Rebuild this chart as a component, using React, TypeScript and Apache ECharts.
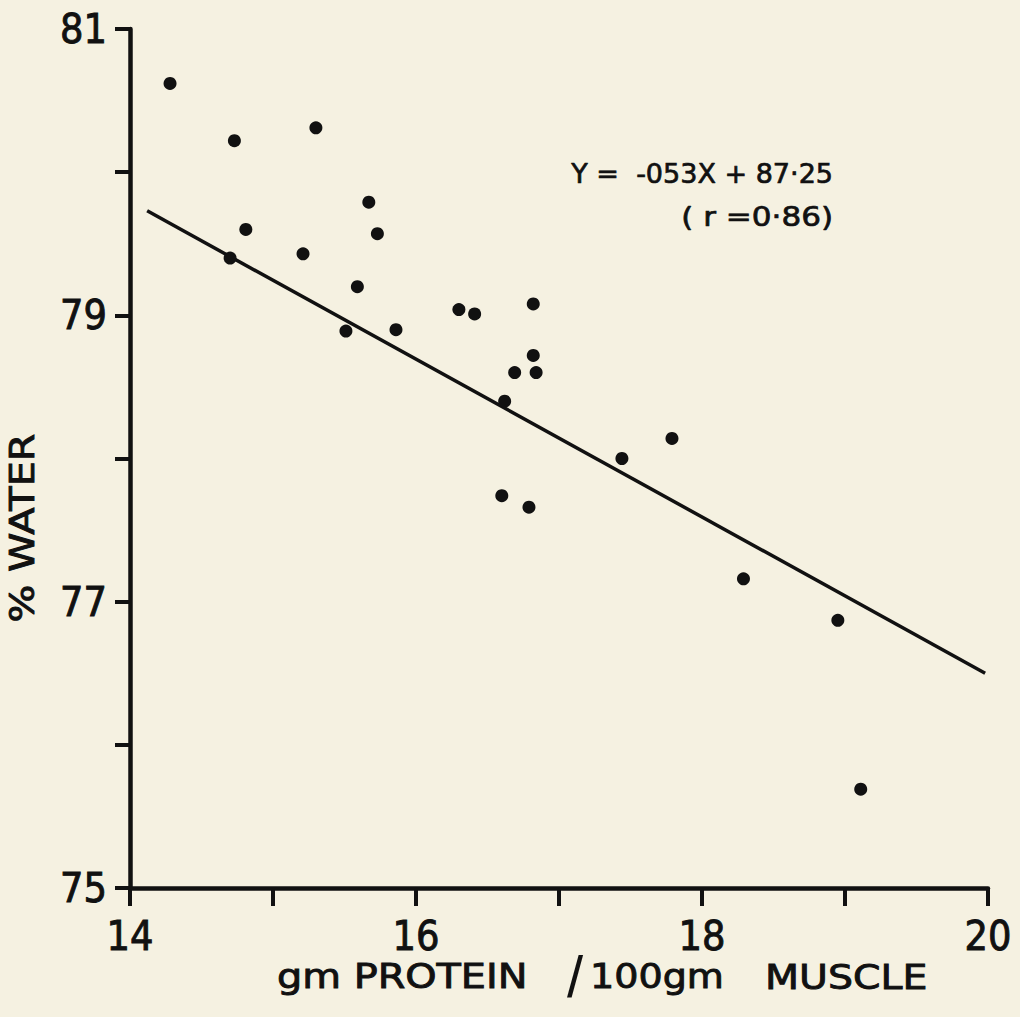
import React, { useEffect, useRef } from 'react';
import * as echarts from 'echarts';

// gm protein / 100 gm muscle (x) and % water (y)
const proteinX = [
  14.28, 14.73, 15.30, 15.67, 14.81, 15.73, 14.70, 15.21, 15.59, 16.30,
  16.41, 15.51, 15.86, 16.69, 16.62, 16.60, 16.82, 16.82, 16.84, 17.79,
  17.44, 16.79, 18.29, 18.95, 19.11,
];
const waterY = [
  80.62, 80.22, 80.31, 79.79, 79.60, 79.57, 79.40, 79.43, 79.20, 79.04,
  79.01, 78.89, 78.90, 78.60, 78.40, 77.74, 79.08, 78.72, 78.60, 78.14,
  78.00, 77.66, 77.16, 76.87, 75.69,
];

// regression line as drawn (end points)
const fitX = [14.12, 19.98];
const fitY = [79.73, 76.5];

// labelled ticks
const xMajorLabels = [14, 16, 18, 20];
const yMajorLabels = [75, 77, 79, 81];

const xTitleParts = ['gm PROTEIN', '/', '100gm', 'MUSCLE'];
const yTitle = '% WATER';
const equationLines = ['Y =  -053X + 87·25', '( r =0·86)'];

const INK = '#111111';
const PAPER = '#f5f1e1';
const NARROW = '"Liberation Sans Narrow", "DejaVu Sans Condensed", Roboto, sans-serif';
const WIDE = '"DejaVu Sans", Verdana, sans-serif';

export default function App() {
  const ref = useRef<HTMLDivElement>(null);

  useEffect(() => {
    if (!ref.current) return;
    const chart = echarts.init(ref.current, null, { renderer: 'svg' });

    const points = proteinX.map((x, i) => [x, waterY[i]]);
    const fit = fitX.map((x, i) => [x, fitY[i]]);

    const titleStyle = { fill: INK, fontFamily: WIDE, fontSize: 34, stroke: INK, lineWidth: 0.9 };

    chart.setOption({
      animation: false,
      backgroundColor: PAPER,
      grid: { left: 130, right: 32, top: 29, bottom: 129 },
      xAxis: {
        type: 'value',
        min: 14,
        max: 20,
        interval: 1,
        splitLine: { show: false },
        axisLine: { show: true, onZero: false, lineStyle: { color: INK, width: 4.5 } },
        axisTick: { show: true, inside: false, length: 18, lineStyle: { color: INK, width: 4 } },
        axisLabel: {
          color: INK,
          fontFamily: NARROW,
          fontSize: 41,
          margin: 27,
          textBorderColor: INK,
          textBorderWidth: 0.9,
          formatter: (v: number) => (xMajorLabels.includes(v) ? String(v) : ''),
        },
      },
      yAxis: {
        type: 'value',
        min: 75,
        max: 81,
        interval: 1,
        splitLine: { show: false },
        axisLine: { show: true, onZero: false, lineStyle: { color: INK, width: 4.5 } },
        axisTick: { show: true, inside: false, length: 15, lineStyle: { color: INK, width: 4 } },
        axisLabel: {
          color: INK,
          fontFamily: NARROW,
          fontSize: 41,
          margin: 23,
          textBorderColor: INK,
          textBorderWidth: 0.9,
          formatter: (v: number) => (yMajorLabels.includes(v) ? String(v) : ''),
        },
      },
      series: [
        {
          type: 'line',
          data: fit,
          showSymbol: false,
          symbol: 'none',
          lineStyle: { color: INK, width: 3.5 },
          z: 2,
        },
        {
          type: 'scatter',
          data: points,
          symbol: 'circle',
          symbolSize: 13,
          itemStyle: { color: INK, opacity: 1 },
          z: 3,
        },
      ],
      graphic: [
        {
          type: 'text',
          x: 833,
          y: 173,
          style: { text: equationLines[0], fill: INK, stroke: INK, lineWidth: 0.7, fontFamily: WIDE, fontSize: 27, textAlign: 'right', textVerticalAlign: 'middle' },
        },
        {
          type: 'text',
          x: 833,
          y: 217,
          scaleX: 1.15,
          style: { text: equationLines[1], fill: INK, stroke: INK, lineWidth: 0.7, fontFamily: WIDE, fontSize: 27, textAlign: 'right', textVerticalAlign: 'middle' },
        },
        {
          type: 'text',
          x: 277,
          y: 977,
          scaleX: 1.17,
          style: { ...titleStyle, text: xTitleParts[0], textAlign: 'left', textVerticalAlign: 'middle' },
        },
        {
          type: 'text',
          x: 575,
          y: 976,
          style: { text: xTitleParts[1], fill: INK, fontFamily: '"Liberation Sans", Arial, sans-serif', fontSize: 58, textAlign: 'center', textVerticalAlign: 'middle' },
        },
        {
          type: 'text',
          x: 590,
          y: 977,
          scaleX: 1.12,
          style: { ...titleStyle, text: xTitleParts[2], textAlign: 'left', textVerticalAlign: 'middle' },
        },
        {
          type: 'text',
          x: 765,
          y: 977,
          scaleX: 1.16,
          style: { ...titleStyle, text: xTitleParts[3], textAlign: 'left', textVerticalAlign: 'middle' },
        },
        {
          type: 'text',
          x: 23,
          y: 528,
          rotation: Math.PI / 2,
          scaleX: 1.17,
          style: { ...titleStyle, text: yTitle, textAlign: 'center', textVerticalAlign: 'middle' },
        },
      ],
    });

    return () => chart.dispose();
  }, []);

  return (
    <div
      ref={ref}
      style={{ position: 'fixed', left: 0, top: 0, width: 1020, height: 1017, background: PAPER }}
    />
  );
}
